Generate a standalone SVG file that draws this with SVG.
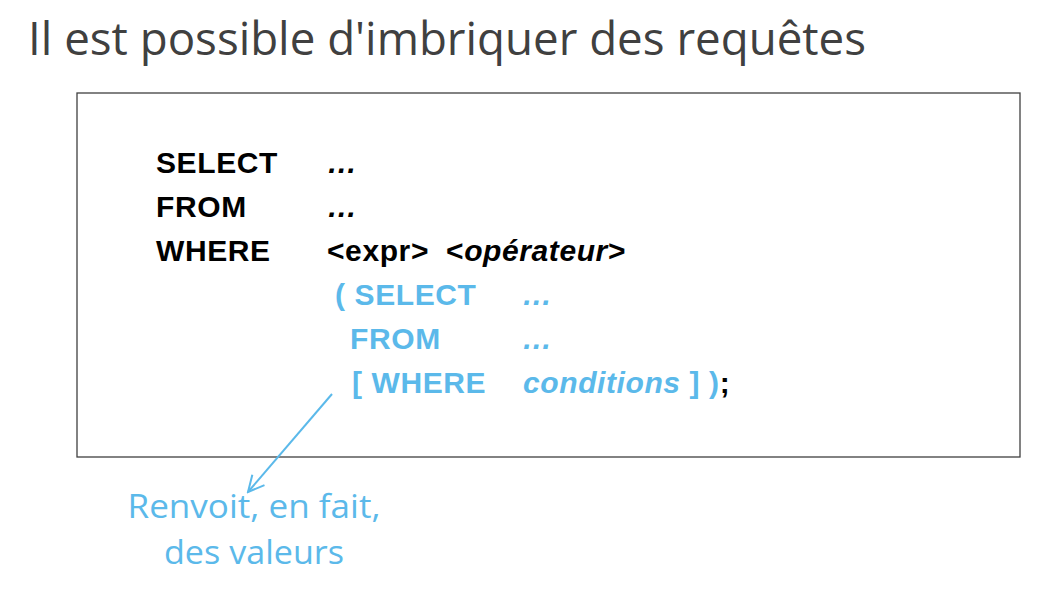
<svg xmlns="http://www.w3.org/2000/svg" width="1051" height="589" viewBox="0 0 1051 589">
<defs>
<style>
.title{font-family:"Open Sans","Liberation Sans",sans-serif;font-size:46px;fill:#404040}
.code{font-family:"Liberation Sans",Arial,sans-serif;font-size:30px;font-weight:bold;letter-spacing:0.6px}
.k{fill:#000}
.b{fill:#5BB9EA}
.i{font-style:italic}
.note{font-family:"Open Sans","Liberation Sans",sans-serif;font-size:32px;fill:#5BB9EA}
</style>
<marker id="arr" viewBox="0 0 20 20" refX="18" refY="10" markerWidth="20" markerHeight="20" markerUnits="userSpaceOnUse" orient="auto">
<path d="M2,2 L18,10 L2,18" fill="none" stroke="#5BB9EA" stroke-width="2"/>
</marker>
</defs>
<rect width="1051" height="589" fill="#fff"/>
<g id="title"><text class="title" x="28" y="55" textLength="838" lengthAdjust="spacingAndGlyphs">Il est possible d'imbriquer des requêtes</text></g>
<g id="box">
<rect x="77" y="93" width="943" height="364" fill="#fff" stroke="#404040" stroke-width="1.3"/>
<text class="code k" x="156" y="173">SELECT</text>
<text class="code k i" x="327" y="173">…</text>
<text class="code k" x="156" y="217">FROM</text>
<text class="code k i" x="327" y="217">…</text>
<text class="code k" x="156" y="261">WHERE</text>
<text class="code k" x="327" y="261">&lt;expr&gt;</text>
<text class="code k" x="446" y="261">&lt;<tspan class="i">opérateur</tspan>&gt;</text>
<text class="code b" x="335" y="305">( SELECT</text>
<text class="code b i" x="522" y="305">…</text>
<text class="code b" x="350" y="349">FROM</text>
<text class="code b i" x="522" y="349">…</text>
<text class="code b" x="352" y="393">[ WHERE</text>
<text class="code b" x="523" y="393"><tspan class="i">conditions</tspan> ] )<tspan class="k">;</tspan></text>
</g>
<g id="connectors">
<line x1="332" y1="394" x2="248" y2="492" stroke="#5BB9EA" stroke-width="2" marker-end="url(#arr)"/>
</g>
<g id="note">
<text class="note" x="254" y="518" text-anchor="middle" textLength="253" lengthAdjust="spacingAndGlyphs">Renvoit, en fait,</text>
<text class="note" x="254" y="564" text-anchor="middle" textLength="180" lengthAdjust="spacingAndGlyphs">des valeurs</text>
</g>
</svg>
